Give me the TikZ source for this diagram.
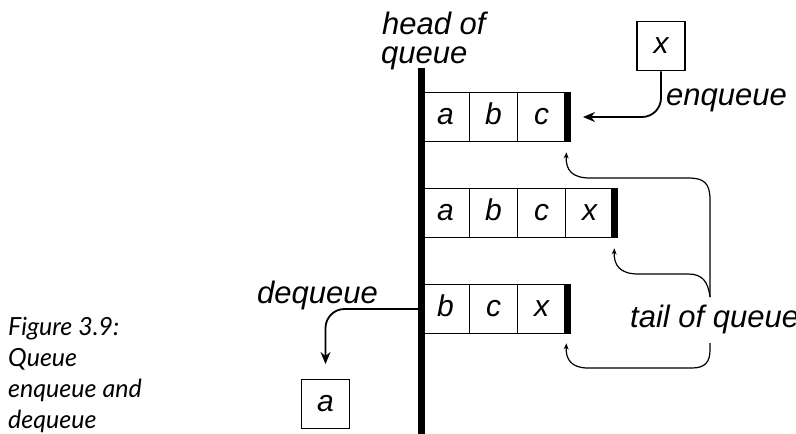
\documentclass[tikz,border=0pt]{standalone}
\usepackage{fontspec}
\setmainfont{Liberation Sans}
\newfontfamily\capfont{Lato}
\usetikzlibrary{arrows.meta}
\begin{document}
\begin{tikzpicture}[x=1pt,y=-1pt,
  lbl/.style={font=\itshape\fontsize{31}{30}\selectfont, inner sep=0pt, anchor=base west},
  cell/.style={draw, line width=1.8pt, minimum width=48pt, minimum height=49pt, inner sep=0pt,
    text height=14pt, text depth=0pt, font=\itshape\fontsize{30}{30}\selectfont},
  endbar/.style={line width=7pt},
  headbar/.style={line width=6.5pt},
  bigarrow/.style={line width=1.8pt, -{Stealth[length=12pt,width=10pt]}, rounded corners=19pt},
  thinarrow/.style={line width=1.2pt, -{Stealth[length=6pt,width=5pt]}}]
\useasboundingbox (0,0) rectangle (796,434);

% head of queue bar
\coordinate (htop) at (421.5,68);
\coordinate (hbot) at (421.5,434);
\draw[headbar] (htop) -- (hbot);

% row 1
\node[cell] (c11) at (445.5,117) {a};
\node[cell] (c12) at (493.5,117) {b};
\node[cell] (c13) at (541.5,117) {c};
\draw[endbar] ([xshift=1pt]c13.north east) -- ([xshift=1pt]c13.south east);

% row 2
\node[cell] (c21) at (445.5,213) {a};
\node[cell] (c22) at (493.5,213) {b};
\node[cell] (c23) at (541.5,213) {c};
\node[cell] (c24) at (589.5,213) {x};
\draw[endbar] ([xshift=0.5pt]c24.north east) -- ([xshift=0.5pt]c24.south east);

% row 3
\node[cell] (c31) at (445.5,309) {b};
\node[cell] (c32) at (493.5,309) {c};
\node[cell] (c33) at (541.5,309) {x};
\draw[endbar] ([xshift=1pt]c33.north east) -- ([xshift=1pt]c33.south east);

% enqueue
\node[cell] (bx) at (661,46) {x};
\coordinate (enqtip) at (583,117);
\draw[bigarrow] (bx.south) |- (enqtip);

% dequeue
\node[cell] (ba) at (325.5,404) {a};
\coordinate (deqstart) at (421.5,309);
\coordinate (deqtip) at (325.5,364);
\draw[bigarrow] (deqstart) -| (deqtip);

% labels
\node[lbl] (head1) at (382,34) {head of};
\node[lbl] (head2) at (381,63) {queue};
\node[lbl] (enq) at (666,105) {enqueue};
\node[lbl] (deq) at (257,303) {dequeue};
\node[lbl] (tail) at (630,327) {tail of queue};

% tail of queue brace arrows
\coordinate (bt) at (710,297);
\coordinate (bb) at (710,343);
\coordinate (tip1) at ([yshift=-10pt]c13.south east);
\coordinate (tip2) at ([yshift=-10pt]c24.south east);
\coordinate (tip3) at ([yshift=-9pt]c33.south east);
\draw[thinarrow] (bt) -- (710,200) .. controls (710,183) and (704,178) .. (688,178)
  -- (590,178) .. controls (572,178) and (565.5,170) .. (tip1);
\draw[thinarrow] (bt) .. controls (708,281) and (702,274) .. (688,274)
  -- (638,274) .. controls (620,274) and (613.5,265) .. (tip2);
\draw[thinarrow] (bb) -- (710,350) .. controls (710,362) and (705,368) .. (692,368)
  -- (588,368) .. controls (572,368) and (565.5,360) .. (tip3);

% caption
\node[font=\capfont\itshape\fontsize{25}{31}\selectfont, align=left, anchor=base west, inner sep=0pt]
  (cap) at (8,428) {Figure 3.9:\\Queue\\enqueue and\\dequeue};
\end{tikzpicture}
\end{document}
